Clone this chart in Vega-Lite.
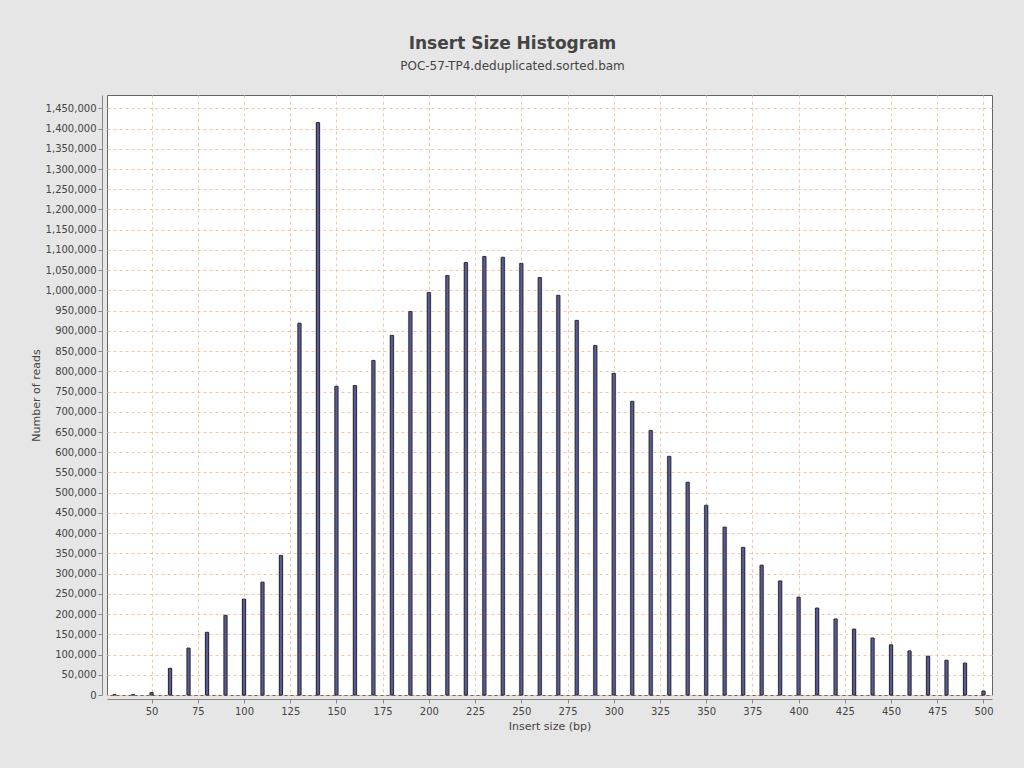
{
  "$schema": "https://vega.github.io/schema/vega-lite/v6.json",
  "width": 885,
  "height": 600,
  "autosize": "none",
  "padding": {"left": 107, "top": 95, "right": 32, "bottom": 73},
  "background": "#e6e6e6",
  "config": {
    "font": "DejaVu Sans",
    "view": {"fill": "white", "stroke": "#666666", "strokeWidth": 1},
    "axis": {
      "labelColor": "#444444",
      "titleColor": "#444444",
      "labelFontSize": 10,
      "titleFontSize": 11,
      "titleFontWeight": "normal",
      "domainColor": "#888888",
      "tickColor": "#888888",
      "gridColor": "#f0c8a8",
      "gridDash": [3, 3],
      "gridWidth": 1
    }
  },
  "title": {
    "text": "Insert Size Histogram",
    "subtitle": "POC-57-TP4.deduplicated.sorted.bam",
    "anchor": "middle",
    "frame": "group",
    "dx": -37,
    "offset": 22,
    "fontSize": 17,
    "fontWeight": "bold",
    "color": "#444444",
    "subtitleFontSize": 12,
    "subtitleColor": "#444444",
    "subtitlePadding": 8
  },
  "data": {
    "values": [
      {"insert": 30, "reads": 1000},
      {"insert": 40, "reads": 1000},
      {"insert": 50, "reads": 6000},
      {"insert": 60, "reads": 66000},
      {"insert": 70, "reads": 116000},
      {"insert": 80, "reads": 155000},
      {"insert": 90, "reads": 197000},
      {"insert": 100, "reads": 237000},
      {"insert": 110, "reads": 279000},
      {"insert": 120, "reads": 345000},
      {"insert": 130, "reads": 919000},
      {"insert": 140, "reads": 1415000},
      {"insert": 150, "reads": 763000},
      {"insert": 160, "reads": 765000},
      {"insert": 170, "reads": 827000},
      {"insert": 180, "reads": 889000},
      {"insert": 190, "reads": 948000},
      {"insert": 200, "reads": 995000},
      {"insert": 210, "reads": 1037000},
      {"insert": 220, "reads": 1069000},
      {"insert": 230, "reads": 1084000},
      {"insert": 240, "reads": 1082000},
      {"insert": 250, "reads": 1067000},
      {"insert": 260, "reads": 1032000},
      {"insert": 270, "reads": 988000},
      {"insert": 280, "reads": 926000},
      {"insert": 290, "reads": 864000},
      {"insert": 300, "reads": 795000},
      {"insert": 310, "reads": 726000},
      {"insert": 320, "reads": 654000},
      {"insert": 330, "reads": 590000},
      {"insert": 340, "reads": 526000},
      {"insert": 350, "reads": 469000},
      {"insert": 360, "reads": 415000},
      {"insert": 370, "reads": 365000},
      {"insert": 380, "reads": 321000},
      {"insert": 390, "reads": 282000},
      {"insert": 400, "reads": 242000},
      {"insert": 410, "reads": 215000},
      {"insert": 420, "reads": 188000},
      {"insert": 430, "reads": 163000},
      {"insert": 440, "reads": 141000},
      {"insert": 450, "reads": 124000},
      {"insert": 460, "reads": 109000},
      {"insert": 470, "reads": 96000},
      {"insert": 480, "reads": 86000},
      {"insert": 490, "reads": 79000},
      {"insert": 500, "reads": 10000}
    ]
  },
  "encoding": {
    "x": {
      "field": "insert",
      "type": "quantitative",
      "title": "Insert size (bp)",
      "scale": {"domain": [25.9, 504.6], "nice": false, "zero": false, "padding": 0},
      "axis": {
        "values": [50, 75, 100, 125, 150, 175, 200, 225, 250, 275, 300, 325, 350, 375, 400, 425, 450, 475, 500],
        "offset": 4,
        "tickSize": 4,
        "labelPadding": 3,
        "titlePadding": 4
      }
    },
    "y": {
      "field": "reads",
      "type": "quantitative",
      "title": "Number of reads",
      "scale": {"domain": [0, 1483000], "nice": false, "padding": 0},
      "axis": {
        "values": [0, 50000, 100000, 150000, 200000, 250000, 300000, 350000, 400000, 450000, 500000, 550000, 600000, 650000, 700000, 750000, 800000, 850000, 900000, 950000, 1000000, 1050000, 1100000, 1150000, 1200000, 1250000, 1300000, 1350000, 1400000, 1450000],
        "format": ",d",
        "offset": 5,
        "tickSize": 4,
        "labelPadding": 2,
        "titlePadding": 4
      }
    }
  },
  "layer": [
    {
      "mark": {"type": "bar", "size": 5, "color": "#c4c4c4", "orient": "vertical"}
    },
    {
      "mark": {"type": "bar", "size": 3, "fill": "#5a5aa0", "stroke": "#2e2e2e", "strokeWidth": 1, "orient": "vertical"}
    }
  ]
}
